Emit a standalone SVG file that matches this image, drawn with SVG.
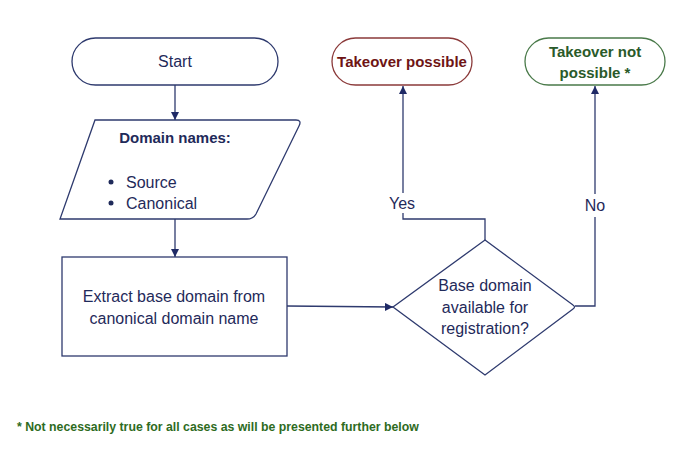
<svg xmlns="http://www.w3.org/2000/svg" width="700" height="458" viewBox="0 0 700 458">
<defs>
<marker id="arr" viewBox="0 0 10 10" refX="10" refY="5" markerWidth="8" markerHeight="8" markerUnits="userSpaceOnUse" orient="auto">
<path d="M0,0 L10,5 L0,10 z" fill="#1f2a66"/>
</marker>
</defs>
<style>
.shape{fill:#fff;stroke:#2e3a6e;stroke-width:1.3}
.t{font-family:"Liberation Sans",Arial,sans-serif;font-size:16px;fill:#1f2a5a;text-anchor:middle}
.b{font-weight:bold;font-size:15px}
.s{text-anchor:start}
.conn{fill:none;stroke:#2e3a6e;stroke-width:1.3}
</style>
<rect width="700" height="458" fill="#fff"/>
<g id="connectors">
<path class="conn" d="M175,85 L175,120" marker-end="url(#arr)"/>
<path class="conn" d="M175,219 L175,257" marker-end="url(#arr)"/>
<path class="conn" d="M287,306 L393,307" marker-end="url(#arr)"/>
<path class="conn" d="M485,240 L485,219 L403,219 L403,213"/>
<path class="conn" d="M403,193 L403,86" marker-end="url(#arr)"/>
<path class="conn" d="M575,306 L595,306 L595,217"/>
<path class="conn" d="M595,194 L595,86" marker-end="url(#arr)"/>
<text class="t" x="402" y="209">Yes</text>
<text class="t" x="595" y="211">No</text>
</g>
<g id="start">
<rect class="shape" x="72" y="38" width="206" height="47" rx="23.5"/>
<text class="t" x="175" y="67">Start</text>
</g>
<g id="domain-names">
<path class="shape" d="M95,120 L296,120 Q302,120 299,126 L256,214 Q253,219 247,219 L60,219 Z"/>
<text class="t b" x="175" y="143">Domain names:</text>
<circle cx="111" cy="182" r="2.5" fill="#1f2a5a"/>
<circle cx="111" cy="203" r="2.5" fill="#1f2a5a"/>
<text class="t s" x="126" y="188">Source</text>
<text class="t s" x="126" y="209">Canonical</text>
</g>
<g id="extract">
<rect class="shape" x="62" y="257" width="225" height="99"/>
<text class="t" x="174" y="302">Extract base domain from</text>
<text class="t" x="174" y="324">canonical domain name</text>
</g>
<g id="decision">
<path class="shape" d="M485,240 L573,305 Q576,307 573,309 L485,375 L393,307 Z"/>
<text class="t" x="485" y="291">Base domain</text>
<text class="t" x="485" y="313">available for</text>
<text class="t" x="485" y="334">registration?</text>
</g>
<g id="takeover-possible">
<rect x="332" y="38" width="140" height="47" rx="23.5" fill="#fff" stroke="#8b3a3a" stroke-width="1.3"/>
<text class="t b" x="402" y="67" style="fill:#6e1414">Takeover possible</text>
</g>
<g id="takeover-not-possible">
<rect x="525" y="38" width="140" height="47" rx="23.5" fill="#fff" stroke="#4a7a4a" stroke-width="1.3"/>
<text class="t b" x="595" y="57" style="fill:#2a5a2a">Takeover not</text>
<text class="t b" x="595" y="78" style="fill:#2a5a2a">possible *</text>
</g>
<g id="footnote">
<text x="17" y="431" style="font-family:'Liberation Sans',Arial,sans-serif;font-size:12.3px;font-weight:bold;fill:#2e6b1e">* Not necessarily true for all cases as will be presented further below</text>
</g>
</svg>
